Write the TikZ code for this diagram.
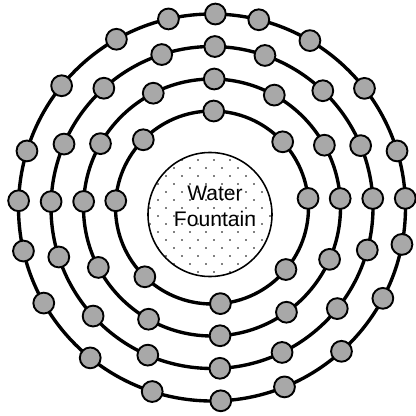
\documentclass[tikz,border=0pt]{standalone}
\usepackage{fontspec}
\setmainfont{Liberation Sans}
\usepackage{xcolor}
\definecolor{seatgray}{RGB}{168, 168, 168}
\definecolor{inkblack}{RGB}{0, 0, 0}

\begin{document}
\begin{tikzpicture}[x=0.025cm, y=0.025cm,
  ring/.style={line width=2.4pt, inkblack},
  seat/.style={circle, draw=inkblack, line width=1.35pt, fill=seatgray, minimum size=0.52cm, inner sep=0pt},
  fountain/.style={circle, draw=inkblack, line width=1.1pt, minimum size=3.1cm, inner sep=0pt}]

  \useasboundingbox (0, 0) rectangle (416, 416);

  % the four walking rings
  \foreach \r in {96.5, 128.5, 161, 193.5} {
    \draw[ring] (212, 208.5) circle (\r);
  }

  % dotted water surface
  \begin{scope}
    \clip (210, 201.5) circle (62);
    \foreach \i in {0, ..., 17} {
      \foreach \j in {0, ..., 8} {
        \fill[inkblack] ({142 + 16*\j + 8*mod(\i, 2)}, {136 + 8*\i}) circle (0.95);
      }
    }
  \end{scope}

  % fountain in the middle
  \node[fountain] (fount) at (210, 201.5) {};
  \node[font=\fontsize{15}{18.5}\selectfont, align=center, inkblack] (fountlabel) at (215, 210) {Water\\Fountain};

  % seats along each ring
  \begin{scope}[shift={(212, 208.5)}]
    % inner ring
    \foreach \a [count=\i] in {89, 42.9, 5.4, -40, -85, 225.9, 176, 135.4} {
      \node[seat] (seatA-\i) at (\a:96.5) {};
    }
    % second ring
    \foreach \a [count=\i] in {89, 61, 29, 4, -23.8, -54.6, -86.4, 240.4, 207.8, 177.3, 150.2, 117.2} {
      \node[seat] (seatB-\i) at (\a:128.5) {};
    }
    % third ring
    \foreach \a [count=\i] in {89, 70.8, 46.5, 22.6, 3.2, -15.3, -38.9, -64.2, -87.2, 246.5, 222.4, 197.9, 177.9, 156.8, 132.2, 108.2} {
      \node[seat] (seatC-\i) at (\a:161) {};
    }
    % outer ring
    \foreach \a [count=\i] in {89, 76, 59.6, 38, 17, 2.7, -11, -28, -48, -68, -87.4, 252, 231, 209.6, 193, 178, 163, 141, 119.6, 103} {
      \node[seat] (seatD-\i) at (\a:193.5) {};
    }
  \end{scope}

\end{tikzpicture}
\end{document}
